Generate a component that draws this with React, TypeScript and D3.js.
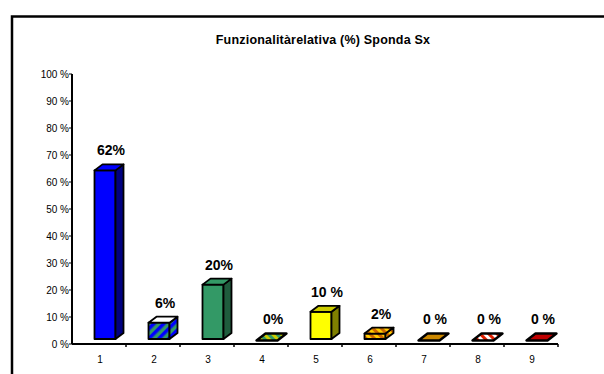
import React from "react";
import * as d3 from "d3";

const categories = ["1", "2", "3", "4", "5", "6", "7", "8", "9"];
const values = [62, 6, 20, 0, 10, 2, 0, 0, 0];
const valueLabels = ["62%", "6%", "20%", "0%", "10 %", "2%", "0 %", "0 %", "0 %"];
const yTicks = [0, 10, 20, 30, 40, 50, 60, 70, 80, 90, 100];
const title = "Funzionalitàrelativa (%) Sponda Sx";

// fills per bar: front, side, top
const fronts = ["#0000FF", "url(#p2)", "#339966", "url(#p4)", "#FFFF00", "url(#p6)", "#CC8800", "url(#p8)", "#C00000"];
const sides = ["#000080", "url(#p2)", "#1F5C3D", "url(#p4)", "#808000", "url(#p6)", "#8A5C00", "url(#p8)", "#800000"];
const tops = ["#0000FF", "#FFFFFF", "#339966", "url(#p4)", "#CCCC00", "url(#p6)", "#CC8800", "url(#p8)", "#C00000"];

export default function App() {
  const W = 604, H = 374;
  const x0 = 72, x1 = 558, axisY = 344;
  const x = d3.scaleBand<string>().domain(categories).range([x0, x1]).padding(0);
  const yAxis = d3.scaleLinear().domain([0, 100]).range([axisY, 74]);
  const yBar = d3.scaleLinear().domain([0, 100]).range([339, 339 - 272]);
  const bw = 21, dx = 8, dy = 6;
  const font = "'Liberation Sans', Arial, sans-serif";

  return (
    <svg width={W} height={H} style={{ position: "absolute", left: 0, top: 0, background: "#fff" }}>
      <defs>
        <pattern id="p2" width="7" height="7" patternUnits="userSpaceOnUse" patternTransform="rotate(45)">
          <rect width="7" height="7" fill="#339966" />
          <rect width="3.5" height="7" fill="#0000FF" />
        </pattern>
        <pattern id="p4" width="6" height="6" patternUnits="userSpaceOnUse" patternTransform="rotate(-45)">
          <rect width="6" height="6" fill="#CCCC00" />
          <rect width="3" height="6" fill="#339966" />
        </pattern>
        <pattern id="p6" width="6" height="6" patternUnits="userSpaceOnUse" patternTransform="rotate(-45)">
          <rect width="6" height="6" fill="#FFCC00" />
          <rect width="3" height="6" fill="#CC6600" />
        </pattern>
        <pattern id="p8" width="6" height="6" patternUnits="userSpaceOnUse" patternTransform="rotate(-45)">
          <rect width="6" height="6" fill="#FFFFFF" />
          <rect width="3" height="6" fill="#E02000" />
        </pattern>
      </defs>
      <rect x={12} y={16.5} width={700} height={400} fill="#fff" stroke="#000" strokeWidth={2.5} />
      <text x={323} y={44} textAnchor="middle" fontFamily={font} fontWeight="bold" fontSize={12.5} letterSpacing={0.2}>{title}</text>

      {/* y axis */}
      <line x1={x0} x2={x0} y1={yAxis(100)} y2={axisY} stroke="#000" strokeWidth={2} />
      {yTicks.map((t) => (
        <g key={t}>
          <line x1={x0 - 3} x2={x0} y1={yAxis(t)} y2={yAxis(t)} stroke="#000" strokeWidth={1} />
          <text x={69} y={yAxis(t) + 3.5} textAnchor="end" fontFamily={font} fontSize={10}>{`${t} %`}</text>
        </g>
      ))}

      {/* bars */}
      {categories.map((c, i) => {
        const v = values[i];
        const l = (x(c) as number) + 22.5;
        const b = yBar(0) + (v > 0 ? 0 : 1.5);
        const t = v > 0 ? yBar(v) : b;
        const r = l + bw;
        const ddx = v > 0 ? dx : 9;
        const ddy = v > 0 ? dy : 7;
        const front = `M${l},${b}L${r},${b}L${r},${t}L${l},${t}Z`;
        const side = `M${r},${b}L${r + ddx},${b - ddy}L${r + ddx},${t - ddy}L${r},${t}Z`;
        const top = `M${l},${t}L${r},${t}L${r + ddx},${t - ddy}L${l + ddx},${t - ddy}Z`;
        return (
          <g key={c} stroke="#000" strokeWidth={1.8} strokeLinejoin="round">
            {v > 0 && <path d={front} fill={fronts[i]} />}
            {v > 0 && <path d={side} fill={sides[i]} />}
            <path d={top} fill={tops[i]} strokeWidth={v > 0 ? 1.8 : 2.4} />
          </g>
        );
      })}

      {/* value labels */}
      {categories.map((c, i) => {
        const l = (x(c) as number) + 22.5;
        return (
          <text key={c} x={l + bw / 2 + dx / 2 + 2} y={yBar(values[i]) - dy - 9} textAnchor="middle"
            fontFamily={font} fontWeight="bold" fontSize={14}>{valueLabels[i]}</text>
        );
      })}

      {/* x axis */}
      <line x1={x0} x2={x1} y1={axisY} y2={axisY} stroke="#000" strokeWidth={2} />
      {categories.map((c) => (
        <line key={c} x1={(x(c) as number) + x.bandwidth()} x2={(x(c) as number) + x.bandwidth()} y1={axisY} y2={axisY + 3} stroke="#000" strokeWidth={1.5} />
      ))}
      {categories.map((c) => (
        <text key={c} x={(x(c) as number) + x.bandwidth() / 2 + 1} y={363} textAnchor="middle" fontFamily={font} fontSize={10}>{c}</text>
      ))}
    </svg>
  );
}
